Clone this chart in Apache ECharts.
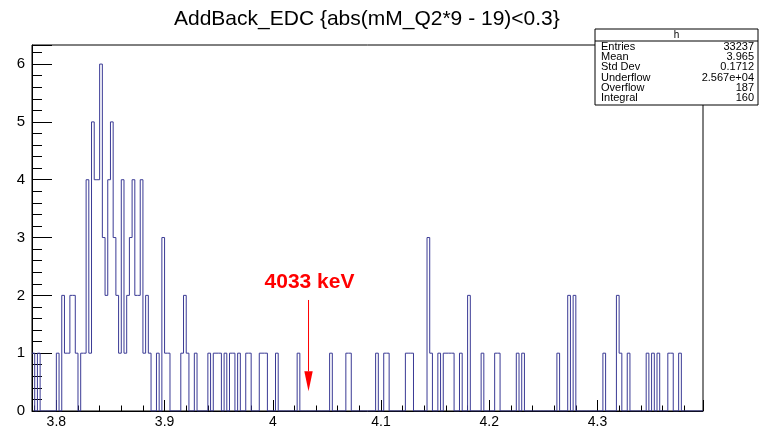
<!DOCTYPE html>
<html><head><meta charset="utf-8">
<script src="https://cdn.jsdelivr.net/npm/echarts@6/dist/echarts.min.js"></script>
<style>html,body{margin:0;padding:0;background:#fff}#c{width:759px;height:431px}</style>
</head><body><div id="c"></div>
<script>
// ---- data ----
const chartTitle = 'AddBack_EDC {abs(mM_Q2*9 - 19)<0.3}';
const binWidthKeV = 2.5;
const axisMinKeV = 3777.5;
const axisMaxKeV = 4397.5;
// low edges (keV) of non-empty bins
const binLowEdgeKeV = [3777.5,3782.5,3800,3805,3807.5,3810,3812.5,3815,3817.5,3822.5,3825,3827.5,3830,3832.5,3835,3837.5,3840,3842.5,3845,3847.5,3850,3852.5,3855,3857.5,3860,3862.5,3865,3867.5,3870,3872.5,3875,3877.5,3880,3882.5,3885,3892.5,3897.5,3900,3902.5,3915,3917.5,3920,3927.5,
 3940,3945,3947.5,3950,3955,3960,3962.5,3967.5,3975,3977.5,3987.5,3990,3992.5,4002.5,4022.5,4052.5,4067.5,4070,4095,4102.5,4105,4122.5,4125,4127.5,4142.5,4145,4152.5,4157.5,4160,4162.5,4165,4172.5,4180,4192.5,4205,4207.5,4225,4230,4262.5,4272.5,4277.5,4305,4317.5,4320,4327.5,4345,4350,4355,4365,4367.5,4375];
const binCounts = [1,1,1,2,1,1,2,2,1,1,1,4,1,5,4,4,6,3,2,4,5,3,2,1,4,1,2,3,4,2,2,4,1,2,1,1,3,1,1,1,2,1,1,
 1,1,1,1,1,1,1,1,1,1,1,1,1,1,1,1,1,1,1,1,1,1,1,1,3,1,1,1,1,1,1,1,2,1,1,1,1,1,1,2,2,1,2,1,1,1,1,1,1,1,1];
const statsName = 'h';
const statsLabels = ['Entries','Mean','Std Dev','Underflow','Overflow','Integral'];
const statsValues = ['33237','3.965','0.1712','2.567e+04','187','160'];
const arrowEnergyKeV = 4033;
const arrowText = '4033 keV';

// ---- build histogram outline ----
const nBins = Math.round((axisMaxKeV - axisMinKeV) / binWidthKeV);
const counts = new Array(nBins).fill(0);
binLowEdgeKeV.forEach((e, i) => {
  const idx = Math.round((e - axisMinKeV) / binWidthKeV);
  if (idx >= 0 && idx < nBins) counts[idx] = binCounts[i];
});
const histPts = [];
for (let i = 0; i < nBins; i++) histPts.push([(axisMinKeV + i * binWidthKeV) / 1000, counts[i]]);
histPts.push([axisMaxKeV / 1000, counts[nBins - 1]]);

const FONT = 'Liberation Sans, Arial, Helvetica, sans-serif';
const chart = echarts.init(document.getElementById('c'), null, {renderer: 'canvas'});
chart.setOption({
  animation: false,
  backgroundColor: '#fff',
  title: {text: chartTitle, left: 169, top: 4,
    textStyle: {fontFamily: FONT, fontSize: 21, fontWeight: 'normal', color: '#000'}},
  grid: {left: 32, right: 56, top: 45, bottom: 20, show: true, borderColor: '#000', borderWidth: 1, backgroundColor: 'transparent'},
  xAxis: {
    type: 'value', min: axisMinKeV / 1000, max: axisMaxKeV / 1000, splitNumber: 6,
    axisLine: {show: true, onZero: false, lineStyle: {color: '#000', width: 1}},
    axisTick: {show: true, inside: true, length: 11, lineStyle: {color: '#000'}},
    minorTick: {show: true, splitNumber: 5, length: 5.5, lineStyle: {color: '#000'}},
    splitLine: {show: false},
    axisLabel: {showMinLabel: false, showMaxLabel: false, color: '#000', fontFamily: FONT, fontSize: 14, margin: 4,
      formatter: v => String(Math.round(v * 10) / 10)}
  },
  yAxis: {
    type: 'value', min: 0, max: 6.33, interval: 1,
    axisLine: {show: true, lineStyle: {color: '#000', width: 1}},
    axisTick: {show: true, inside: true, length: 20, lineStyle: {color: '#000'}},
    minorTick: {show: true, splitNumber: 5, length: 10, lineStyle: {color: '#000'}},
    splitLine: {show: false},
    axisLabel: {showMaxLabel: false, color: '#000', fontFamily: FONT, fontSize: 15, margin: 7}
  },
  series: [{
    type: 'line', step: 'end', data: histPts, symbol: 'none', silent: true,
    lineStyle: {color: '#3a3a95', width: 1}
  }]
});

// ---- annotations (positions from the axes) ----
const ax = arrowEnergyKeV / 1000;
const pTop = chart.convertToPixel({xAxisIndex: 0, yAxisIndex: 0}, [ax, 1.92]);
const pTip = chart.convertToPixel({xAxisIndex: 0, yAxisIndex: 0}, [ax, 0.34]);
const pTxt = chart.convertToPixel({xAxisIndex: 0, yAxisIndex: 0}, [ax, 2.22]);
const headLen = 20, headHalf = 4.2;

const gfx = [
  {type: 'line', shape: {x1: pTop[0], y1: pTop[1], x2: pTip[0], y2: pTip[1] - headLen}, style: {stroke: '#ff0000', lineWidth: 1}},
  {type: 'polygon', shape: {points: [[pTip[0] - headHalf, pTip[1] - headLen], [pTip[0] + headHalf, pTip[1] - headLen], [pTip[0], pTip[1]]]}, style: {fill: '#ff0000'}},
  {type: 'text', x: pTxt[0] + 1, y: pTxt[1], style: {text: arrowText, fill: '#ff0000', font: 'bold 21px ' + FONT, textAlign: 'center', textVerticalAlign: 'middle'}}
];
// stats box
const bx = 595, by = 29, bw = 163, bh = 76;
gfx.push({type: 'rect', shape: {x: bx, y: by, width: bw, height: bh}, style: {fill: '#fff', stroke: '#000', lineWidth: 1}, z: 10});
gfx.push({type: 'line', shape: {x1: bx, y1: 41, x2: bx + bw, y2: 41}, style: {stroke: '#000', lineWidth: 1}, z: 11});
gfx.push({type: 'text', x: bx + bw / 2, y: 35, style: {text: statsName, fill: '#000', font: '10px ' + FONT, textAlign: 'center', textVerticalAlign: 'middle'}, z: 11});
statsLabels.forEach((lab, i) => {
  const yy = 47 + i * 10.2;
  gfx.push({type: 'text', x: bx + 6, y: yy, style: {text: lab, fill: '#000', font: '11px ' + FONT, textAlign: 'left', textVerticalAlign: 'middle'}, z: 11});
  gfx.push({type: 'text', x: bx + bw - 4, y: yy, style: {text: statsValues[i], fill: '#000', font: '11px ' + FONT, textAlign: 'right', textVerticalAlign: 'middle'}, z: 11});
});
chart.setOption({graphic: gfx});
</script>
</body></html>
